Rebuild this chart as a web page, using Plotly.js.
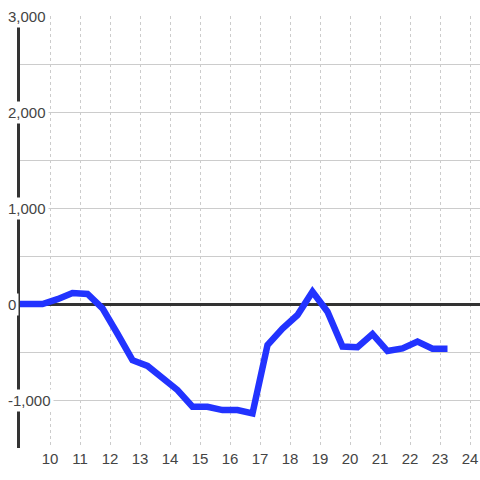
<!DOCTYPE html>
<html>
<head>
<meta charset="utf-8">
<script src="https://cdn.plot.ly/plotly-3.0.1.min.js"></script>
<style>html,body{margin:0;padding:0;background:#fff;}#chart{width:480px;height:480px;}</style>
</head>
<body>
<div id="chart"></div>
<script>
const hours = [8.75, 9.25, 9.75, 10.25, 10.75, 11.25, 11.75, 12.25, 12.75, 13.25,
               13.75, 14.25, 14.75, 15.25, 15.75, 16.25, 16.75, 17.25, 17.75, 18.25,
               18.75, 19.25, 19.75, 20.25, 20.75, 21.25, 21.75, 22.25, 22.75, 23.25];
const values = [0, 0, 0, 50, 115, 105, -45, -310, -585, -645,
                -770, -896, -1070, -1070, -1105, -1105, -1140, -427, -255, -115,
                128, -80, -444, -450, -313, -490, -462, -392, -465, -465];
const xTickVals = [10, 11, 12, 13, 14, 15, 16, 17, 18, 19, 20, 21, 22, 23, 24];
const yTickVals = [-1000, 0, 1000, 2000, 3000];
const yTickText = ['-1,000', '0', '1,000', '2,000', '3,000'];

const FONT = 'Liberation Sans, Arial, sans-serif';
const TXT = '#444';

const annotations = yTickVals.map((v, i) => ({
  xref: 'paper', yref: 'y',
  x: -15 / 460, y: v,
  xanchor: 'left', yanchor: 'middle',
  text: yTickText[i],
  showarrow: false,
  bgcolor: '#ffffff',
  borderpad: 2,
  font: {family: FONT, size: 15, color: TXT}
}));

const trace = {
  x: hours, y: values,
  type: 'scatter', mode: 'lines',
  line: {color: '#2233ff', width: 6.5},
  hoverinfo: 'skip'
};

const layout = {
  width: 480, height: 480,
  margin: {l: 20, r: 0, t: 16, b: 32, pad: 0},
  paper_bgcolor: '#ffffff', plot_bgcolor: '#ffffff',
  showlegend: false,
  font: {family: FONT, size: 15, color: TXT},
  xaxis: {
    range: [9, 9 + 460 / 30],
    tickvals: xTickVals,
    ticktext: xTickVals.map(String),
    showgrid: true, gridcolor: '#cccccc', gridwidth: 1, griddash: '3px,3px',
    zeroline: false, showline: false, ticks: '',
    tickfont: {family: FONT, size: 15, color: TXT},
    layer: 'below traces', fixedrange: true
  },
  yaxis: {
    range: [-1500, 3000],
    dtick: 500, tick0: 0,
    showticklabels: false,
    showgrid: true, gridcolor: '#cccccc', gridwidth: 1,
    zeroline: true, zerolinecolor: '#333333', zerolinewidth: 3,
    showline: true, linecolor: '#333333', linewidth: 3,
    ticks: '', layer: 'below traces', fixedrange: true
  },
  annotations: annotations
};

Plotly.newPlot('chart', [trace], layout, {staticPlot: true, displayModeBar: false});
</script>
</body>
</html>
